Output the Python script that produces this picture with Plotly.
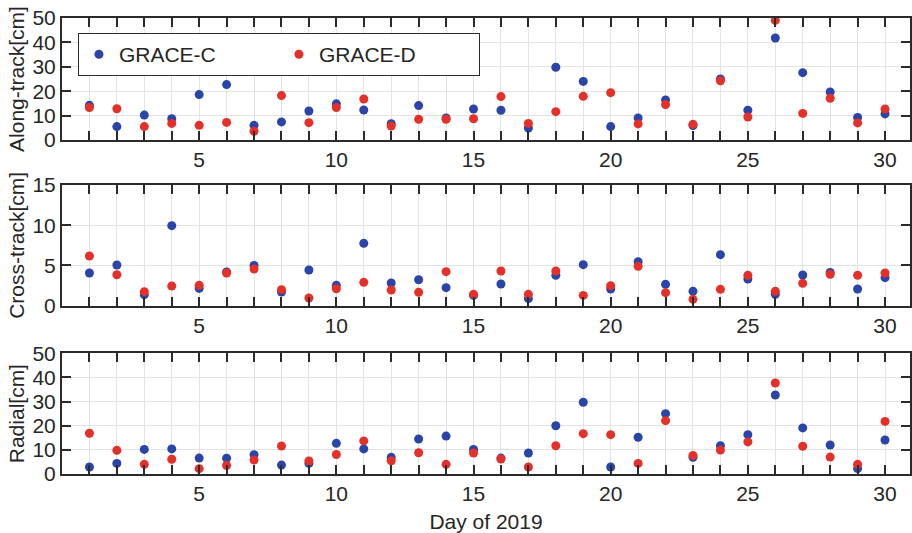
import plotly.graph_objects as go

days = list(range(1, 31))

along_c = [14.2, 5.5, 10.2, 8.7, 18.6, 22.7, 6.0, 7.4, 11.9, 14.8, 12.3, 6.7, 14.1, 9.0, 12.7,
           12.2, 4.9, 29.8, 24.0, 5.5, 9.0, 16.4, 5.9, 25.0, 12.2, 41.8, 27.6, 19.7, 9.2, 10.7]
along_d = [13.3, 12.8, 5.5, 6.8, 6.0, 7.2, 3.6, 18.2, 7.1, 13.3, 16.8, 5.7, 8.5, 8.5, 8.7,
           17.8, 6.8, 11.6, 17.9, 19.4, 6.6, 14.5, 6.4, 24.3, 9.4, 49.0, 10.9, 17.1, 7.0, 12.7]
cross_c = [4.06, 5.06, 1.37, 9.95, 2.15, 4.19, 5.01, 1.70, 4.43, 2.53, 7.75, 2.82, 3.23, 2.24, 1.28,
           2.69, 0.87, 3.77, 5.10, 2.07, 5.47, 2.65, 1.78, 6.34, 3.32, 1.41, 3.81, 4.14, 2.07, 3.48]
cross_d = [6.17, 3.85, 1.74, 2.45, 2.53, 4.06, 4.56, 1.99, 0.95, 2.11, 2.90, 1.95, 1.66, 4.23, 1.41,
           4.31, 1.41, 4.31, 1.28, 2.49, 4.89, 1.62, 0.79, 2.03, 3.77, 1.78, 2.78, 3.90, 3.77, 4.06]
radial_c = [2.9, 4.4, 10.2, 10.4, 6.6, 6.5, 8.0, 3.7, 4.4, 12.7, 10.4, 6.9, 14.5, 15.7, 10.2,
            6.6, 8.7, 20.0, 29.7, 2.9, 15.2, 25.0, 6.9, 11.7, 16.3, 32.7, 19.1, 12.0, 2.3, 14.1]
radial_d = [16.9, 9.8, 4.0, 6.1, 2.2, 3.5, 5.8, 11.6, 5.4, 8.1, 13.7, 5.5, 8.8, 4.0, 8.7,
            6.2, 2.9, 11.7, 16.7, 16.3, 4.4, 22.1, 7.7, 9.9, 13.3, 37.7, 11.5, 7.0, 4.0, 21.8]

series_names = ["GRACE-C", "GRACE-D"]
y_titles = ["Along-track[cm]", "Cross-track[cm]", "Radial[cm]"]
y_ranges = [[0, 50], [0, 15], [0, 50]]
y_dticks = [10, 5, 10]
x_tickvals = list(range(1, 31))
x_ticktext = [str(d) if d % 5 == 0 else "" for d in x_tickvals]
x_title = "Day of 2019"

BLUE = "#2a44a8"
RED = "#e5302a"
AXC = "#2b2b2b"
TXT = "#262626"
FONT = "Liberation Sans, Arial, sans-serif"
FS = 21

panels = [(along_c, along_d), (cross_c, cross_d), (radial_c, radial_d)]
domains = [[0.7325, 1.0], [0.3691, 0.6338], [0.0, 0.2647]]

fig = go.Figure()
for i, (c, d) in enumerate(panels):
    ax = "" if i == 0 else str(i + 1)
    fig.add_trace(go.Scatter(x=days, y=c, mode="markers", name=series_names[0],
                             marker=dict(color=BLUE, size=9), showlegend=(i == 0),
                             xaxis="x" + ax, yaxis="y" + ax))
    fig.add_trace(go.Scatter(x=days, y=d, mode="markers", name=series_names[1],
                             marker=dict(color=RED, size=9), showlegend=(i == 0),
                             xaxis="x" + ax, yaxis="y" + ax))

layout = dict(
    width=912, height=533,
    margin=dict(l=62, r=0, t=18, b=59),
    paper_bgcolor="white", plot_bgcolor="white",
    font=dict(family=FONT, size=FS, color=TXT),
    showlegend=True,
    legend=dict(orientation="h", x=0.0188, y=0.967, xanchor="left", yanchor="top",
                bgcolor="white", bordercolor=AXC, borderwidth=1,
                font=dict(size=FS, color=TXT),
                entrywidth=155, entrywidthmode="pixels"),
)
for i in range(3):
    key = "" if i == 0 else str(i + 1)
    layout["xaxis" + key] = dict(
        domain=[0, 1], range=[0, 30.91], anchor="y" + key,
        tickmode="array", tickvals=x_tickvals, ticktext=x_ticktext,
        ticks="inside", ticklen=9, tickwidth=2, tickcolor=AXC,
        showline=True, linecolor=AXC, linewidth=2, mirror="ticks",
        showgrid=True, gridcolor="#e3e3e3", gridwidth=1, zeroline=False,
        tickfont=dict(size=FS, color=TXT),
        title=dict(text=x_title if i == 2 else "", font=dict(size=FS), standoff=10),
    )
    layout["yaxis" + key] = dict(
        domain=domains[i], range=y_ranges[i], anchor="x" + key,
        tickmode="linear", tick0=0, dtick=y_dticks[i],
        ticks="inside", ticklen=9, tickwidth=2, tickcolor=AXC,
        showline=True, linecolor=AXC, linewidth=2, mirror="ticks",
        showgrid=True, gridcolor="#e3e3e3", gridwidth=1, zeroline=False,
        tickfont=dict(size=FS, color=TXT),
        title=dict(text=y_titles[i], font=dict(size=FS), standoff=2),
    )
fig.update_layout(**layout)
fig.write_html("out.html")
